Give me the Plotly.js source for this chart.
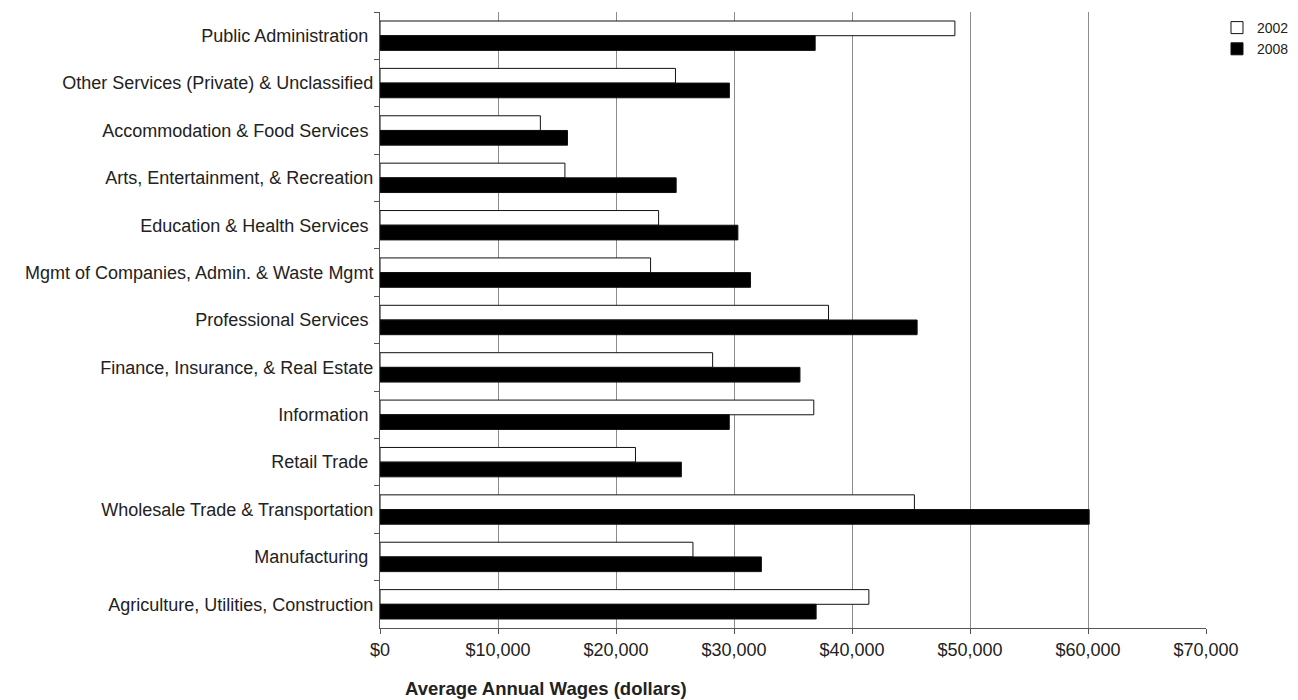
<!DOCTYPE html>
<html>
<head>
<meta charset="utf-8">
<script src="https://cdn.plot.ly/plotly-3.0.1.min.js"></script>
<style>
  html, body { margin: 0; padding: 0; background: #fff; }
  #chart { width: 1298px; height: 700px; }
</style>
</head>
<body>
<div id="chart"></div>
<script>
// Industry sectors, listed top to bottom
const industries = [
  "Public Administration ",
  "Other Services (Private) & Unclassified",
  "Accommodation & Food Services ",
  "Arts, Entertainment, & Recreation",
  "Education & Health Services ",
  "Mgmt of Companies, Admin. & Waste Mgmt",
  "Professional Services ",
  "Finance, Insurance, & Real Estate",
  "Information ",
  "Retail Trade ",
  "Wholesale Trade & Transportation",
  "Manufacturing ",
  "Agriculture, Utilities, Construction"
];

// Average annual wages (dollars)
const wages2002 = [48720, 25040, 13590, 15670, 23610, 22930, 38010, 28190, 36760, 21650, 45290, 26520, 41430];
const wages2008 = [36880, 29610, 15890, 25100, 30330, 31400, 45520, 35590, 29600, 25540, 60100, 32320, 36960];

const xTickValues = [0, 10000, 20000, 30000, 40000, 50000, 60000, 70000];
const xTickLabels = ["$0", "$10,000", "$20,000", "$30,000", "$40,000", "$50,000", "$60,000", "$70,000"];

const traces = [
  {
    type: "bar",
    orientation: "h",
    name: "2002",
    y: industries,
    x: wages2002,
    marker: { color: "#ffffff", line: { color: "#111111", width: 1 } },
    hoverinfo: "x+y"
  },
  {
    type: "bar",
    orientation: "h",
    name: "2008",
    y: industries,
    x: wages2008,
    marker: { color: "#000000", line: { color: "#111111", width: 1 } },
    hoverinfo: "x+y"
  }
];

const layout = {
  width: 1298,
  height: 700,
  margin: { l: 380, r: 92, t: 12, b: 72, pad: 0, autoexpand: false },
  paper_bgcolor: "#ffffff",
  plot_bgcolor: "#ffffff",
  font: { family: "Liberation Sans, Arial, sans-serif", size: 18, color: "#222222" },
  barmode: "group",
  bargap: 0.38,
  bargroupgap: 0,
  showlegend: true,
  legend: {
    x: 1.0133, y: 1.0, xanchor: "left", yanchor: "top",
    font: { size: 14, color: "#222222" },
    bgcolor: "rgba(0,0,0,0)",
    tracegroupgap: 0,
    itemwidth: 30
  },
  xaxis: {
    range: [0, 70000],
    tickvals: xTickValues,
    ticktext: xTickLabels,
    showgrid: true,
    gridcolor: "#8c8c8c",
    gridwidth: 1,
    zeroline: false,
    showline: true,
    linecolor: "#555555",
    linewidth: 1,
    ticks: "outside",
    ticklen: 5,
    tickcolor: "#555555",
    tickfont: { size: 18, color: "#222222" },
    fixedrange: true
  },
  yaxis: {
    type: "category",
    autorange: "reversed",
    showgrid: false,
    zeroline: false,
    showline: true,
    linecolor: "#555555",
    linewidth: 1,
    ticks: "outside",
    tickson: "boundaries",
    ticklen: 5,
    tickcolor: "#555555",
    tickfont: { size: 18, color: "#222222" },
    ticklabelstandoff: 2,
    fixedrange: true
  },
  annotations: [
    {
      text: "<b>Average Annual Wages (dollars)</b>",
      xref: "paper", yref: "paper",
      x: 0.201, y: -0.099,
      xanchor: "center", yanchor: "middle",
      showarrow: false,
      font: { size: 18.5, color: "#222222" }
    }
  ]
};

Plotly.newPlot("chart", traces, layout, { displayModeBar: false, staticPlot: true });
</script>
</body>
</html>
